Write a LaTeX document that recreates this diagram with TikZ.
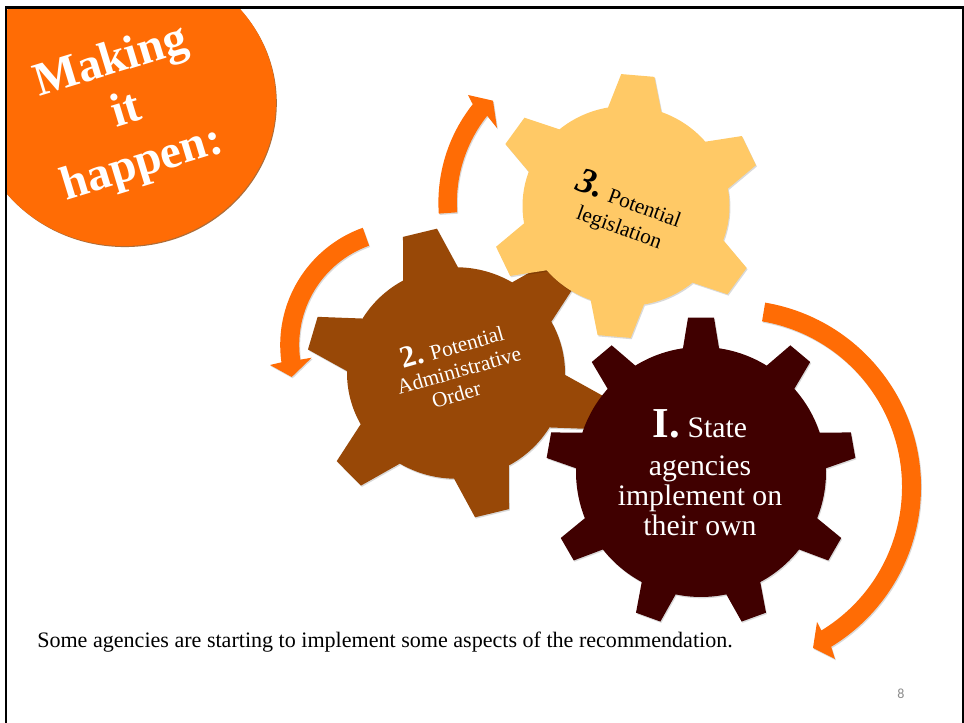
\documentclass[tikz,border=0pt]{standalone}
\usepackage{fontspec}
\usepackage{xcolor}
\setmainfont{Liberation Serif}
\newfontfamily\pagefont{Carlito}
\usetikzlibrary{shadows, calc}

\definecolor{sloganorange}{HTML}{FF6C05}
\definecolor{gearbrown}{HTML}{984807}
\definecolor{gearyellow}{HTML}{FFC966}
\definecolor{geardark}{HTML}{400000}

% gear: colour, placement, body radius, tip radius, teeth, first tooth angle, base half angle, tip half angle
\newcommand{\drawgear}[8]{
    \pgfmathsetmacro{\gearstep}{360/#5}
    \fill[#1, softshadow, #2] (#6+#7:#3)
        \foreach \k [evaluate=\k as \a using #6-(\k-1)*\gearstep] in {1,...,#5}{
            -- (\a+#8:#4) -- (\a-#8:#4) -- (\a-#7:#3)
            arc[start angle=\a-#7, end angle=\a-\gearstep+#7, radius=#3]
        } -- cycle;
}
% curved arrow: centre, outer radius, inner radius, start, end, outer barb, tip, inner barb
\newcommand{\bendarrow}[8]{
    \fill[sloganorange, softshadow] (#1) ++(#4:#2) arc[start angle=#4, end angle=#5, radius=#2]
        -- (#6) -- (#7) -- (#8) -- ($(#1)+(#5:#3)$)
        arc[start angle=#5, end angle=#4, radius=#3] -- cycle;
}

\begin{document}
\begin{tikzpicture}[
        x=0.75pt, y=0.75pt,
        softshadow/.style={drop shadow={shadow xshift=0.7pt, shadow yshift=-1pt, opacity=0.15, fill=black}},
        discshadow/.style={drop shadow={shadow xshift=0.6pt, shadow yshift=-0.8pt, opacity=0.8, fill=gearbrown}},
        slogan/.style={font=\fontsize{35.5}{40}\selectfont\bfseries, text=white, align=center, rotate=17},
        gearlabel/.style={align=center, font=\fontsize{16}{17}\selectfont},
        biglabel/.style={align=center, text=white, font=\fontsize{22.3}{22.5}\selectfont}
    ]
        \useasboundingbox (0,0) rectangle (964,723);

        % Slogan disc
        \begin{scope}
            \clip (5.8,715.5) rectangle (964,0);
            \fill[sloganorange, discshadow] (124,621) ellipse [x radius=152, y radius=144];
        \end{scope}
        \node[slogan] (making) at (127,609) {Making\\[-1pt]it\\[1pt]happen:};

        % Gears
        \drawgear{gearbrown}{shift={(456,350)}, yscale=0.97}{109}{150}{6}{104}{15}{6.7}
        \drawgear{gearyellow}{shift={(626,517)}, xscale=1.035}{100}{132}{6}{85}{15}{7}
        \drawgear{geardark}{shift={(701,251)}}{125}{155}{9}{90}{8.3}{4.8}

        % Gear labels
        \node[gearlabel, text=white, rotate=16] (order) at (458,356)
            {{\fontsize{23}{23}\selectfont\bfseries 2.} Potential\\[1pt]Administrative\\Order\hspace*{14pt}};
        \node[gearlabel, rotate=-20] (legislation) at (625,511)
            {{\fontsize{27}{27}\selectfont\bfseries\itshape 3.} Potential\\[3pt]legislation};
        \node[biglabel] (agencies) at (700,250)
            {{\fontsize{32}{32}\selectfont\bfseries I.} State\\[6pt]agencies\\implement on\\their own};

        % Arrows
        \bendarrow{734,236}{187}{168}{80.4}{-58.7}{835,64}{813,75}{817,101}
        \bendarrow{404.7,378}{124.5}{105.5}{109.7}{188}{270,358}{291.7,346}{311.7,365.3}
        \bendarrow{596.4,520.4}{158}{139.5}{184}{141.5}{468,628}{493,622.3}{497,595}

        % Caption and page number
        \node[anchor=base west, inner sep=0pt, font=\fontsize{16.55}{18}\selectfont] (caption) at (37,75)
            {Some agencies are starting to implement some aspects of the recommendation.};
        \node[anchor=base, inner sep=0pt, text=black!45, font=\pagefont\fontsize{10.5}{12}\selectfont] (pagenum) at (901,24) {8};

        % Slide frame
        \draw[line width=1.9pt] (5.8,0) -- (5.8,715.5) -- (963,715.5) -- (963,0);
    \end{tikzpicture}
\end{document}
